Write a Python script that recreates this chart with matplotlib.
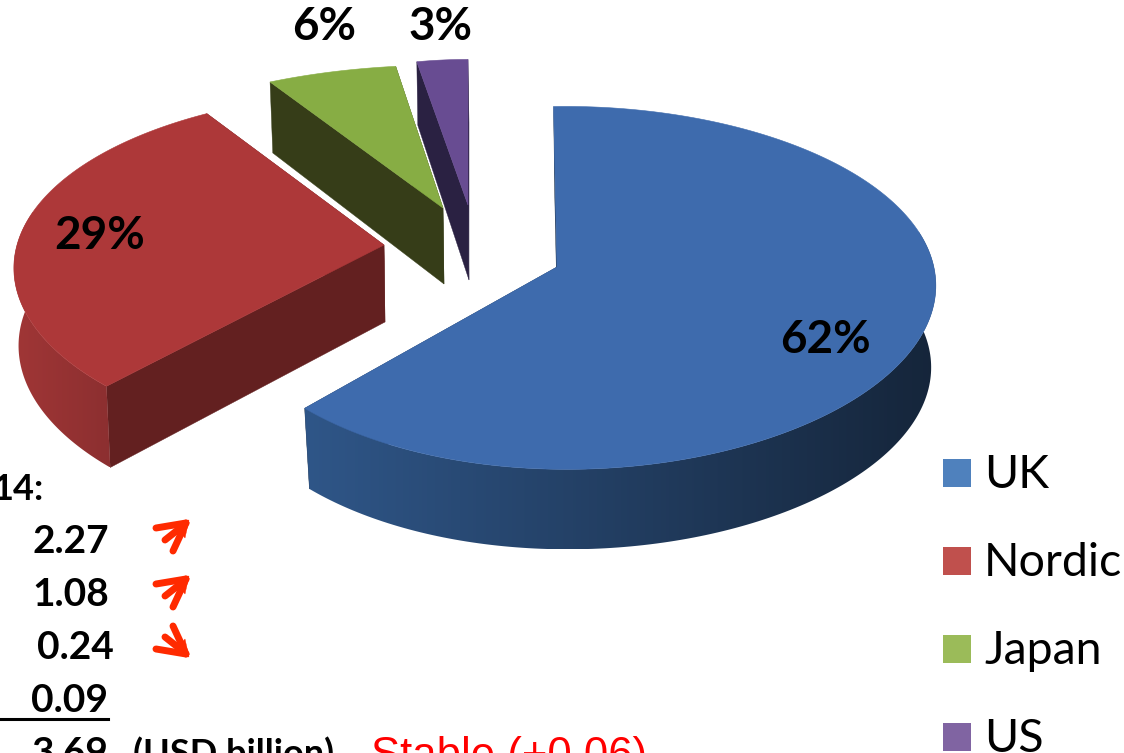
"""Exploded 3D-look pie of regional shares with a small value table and legend."""
from __future__ import annotations

import matplotlib
matplotlib.use("Agg")
import matplotlib.pyplot as plt
import matplotlib.colors as mcolors
import numpy as np
from matplotlib.patches import Polygon, Rectangle

WIDTH, HEIGHT = 1124, 753

REGIONS = ["UK", "Nordic", "Japan", "US"]
SHARES = [62, 29, 6, 3]
SHARE_LABELS = ["62%", "29%", "6%", "3%"]
LABEL_POS = [(825, 340), (100, 236), (324, 27), (441, 27)]

TABLE_VALUES = ["2.27", "1.08", "0.24", "0.09"]
TABLE_RIGHT = [109, 109, 114, 108]
TABLE_BASE = [553, 606, 659, 712]
TREND = [1, 1, -1]
TOTAL_VALUE = "3.69"

LEGEND_COLORS = ["#4F81BD", "#C0504D", "#9BBB59", "#8064A2"]
LEGEND_Y = [459, 547, 635, 723]

TOP_COLORS = ["#3E6BAD", "#AD3839", "#87AD44", "#684C92"]
CUT_COLORS = ["#1D3350", "#632020", "#363D18", "#2A2142"]
# colour of the outer wall, from its left end to its right end
WALL_COLORS = [("#2F5688", "#15253A"), ("#A03636", "#8C2F30"), None, None]

# apex x, apex y, radius x, radius y, lean, rotation, perspective x, perspective y,
# depth, bottom scale x, bottom scale y
GEOMETRY = [
    (557, 267, 358, 179, 0.05, -0.6, 0.10, 0.115, 82, 0.985, 0.99),
    (384, 245, 367, 174, 0.0, 0.0, 0.13, 0.14, 77, 0.99, 1.03),
    (443, 208, 383, 158, 0.0, 3.0, 0.10, 0.106, 76, 0.99, 1.04),
    (468, 205, 300, 161, 0.0, 0.0, 0.10, 0.106, 75, 1.00, 1.08),
]
ARROW_RED = "#FF2A00"


def project(theta, geo):
    """Map clockwise-from-top angles (degrees) on the disc to the screen."""
    cx, cy, rx, ry, lean, rot, px, py = geo[:8]
    t = np.radians(np.asarray(theta, dtype=float) + rot)
    x, y = np.sin(t), -np.cos(t)
    return (cx + rx * x / (1 - px * y - lean * x),
            cy + ry * y / (1 - py * y - 0.5 * lean * x),
            y)


def lower(px, py, geo):
    """Shift top-face points to the bottom face of the slab."""
    cx, cy = geo[0], geo[1]
    depth, sx, sy = geo[8:]
    return cx + 1 + sx * (px - cx), cy + depth + sy * (py - cy)


def draw_wall(ax, px, py, bx, by, disc_y, wall):
    # Outer wall as a horizontal gradient clipped to the curved band
    keep = disc_y >= -0.2
    band = np.column_stack([np.r_[px[keep], bx[keep][::-1]], np.r_[py[keep], by[keep][::-1]]])
    patch = Polygon(band, closed=True, facecolor="none", edgecolor="none", transform=ax.transData)
    ax.add_patch(patch)
    left, right = (np.array(mcolors.to_rgb(c)) for c in wall)
    ramp = np.linspace(0, 1, 256)[None, :, None]
    gradient = left[None, None, :] + (right - left)[None, None, :] * ramp
    x0, x1 = band[:, 0].min(), band[:, 0].max()
    y0, y1 = band[:, 1].min(), band[:, 1].max()
    img = ax.imshow(gradient, extent=(x0, x1, y1, y0), aspect="auto", zorder=2.5,
                    interpolation="bilinear")
    img.set_clip_path(patch)


def draw_slice(ax, start, share, top, cut, wall, geo):
    theta = np.linspace(start, start + share * 3.6, 240)
    px, py, disc_y = project(theta, geo)
    bx, by = lower(px, py, geo)
    cx, cy = geo[0], geo[1]
    acx, acy = lower(np.array([cx]), np.array([cy]), geo)

    # Cut faces first, the top face goes over whatever should be hidden
    for i in (0, -1):
        ax.add_patch(Polygon([(px[i], py[i]), (cx, cy), (acx[0], acy[0]), (bx[i], by[i])],
                             closed=True, facecolor=cut, edgecolor=cut, lw=0.3, zorder=2))
    if wall is not None:
        draw_wall(ax, px, py, bx, by, disc_y, wall)
    outline = np.column_stack([np.r_[cx, px], np.r_[cy, py]])
    ax.add_patch(Polygon(outline, closed=True, facecolor=top, edgecolor=top, lw=0.4, zorder=3))


def draw_arrow(ax, tip_y, sign):
    # Chunky hand-drawn style arrow, sign flips it between up and down
    tip_x = 189
    strokes = [((-16, 31), (-3, 3)), ((-33, 8), (-3, 3)), ((-24, 20), (-5, 5))]
    for (x0, y0), (x1, y1) in strokes:
        ax.plot([tip_x + x0, tip_x + x1], [tip_y + sign * y0, tip_y + sign * y1],
                color=ARROW_RED, lw=5, solid_capstyle="round", zorder=4)
    ax.add_patch(Polygon([(tip_x, tip_y), (tip_x - 16, tip_y + sign * 3), (tip_x - 4, tip_y + sign * 18)],
                         closed=True, facecolor=ARROW_RED, edgecolor=ARROW_RED, lw=0.3, zorder=4))


def main() -> None:
    fig = plt.figure(figsize=(WIDTH / 100, HEIGHT / 100), dpi=100)
    ax = fig.add_axes([0, 0, 1, 1])

    start = 0.0
    for share, top, cut, wall, geo in zip(SHARES, TOP_COLORS, CUT_COLORS, WALL_COLORS, GEOMETRY):
        draw_slice(ax, start, share, top, cut, wall, geo)
        start += share * 3.6

    # imshow resets the limits, so pin them after the slices
    ax.set_xlim(0, WIDTH)
    ax.set_ylim(HEIGHT, 0)
    ax.axis("off")

    for label, (x, y) in zip(SHARE_LABELS, LABEL_POS):
        ax.text(x, y, label, ha="center", va="center", fontsize=33, fontweight="bold",
                family="Lato", color="black", zorder=5)

    # Legend
    for name, color, y in zip(REGIONS, LEGEND_COLORS, LEGEND_Y):
        ax.add_patch(Rectangle((943, y), 28, 28, facecolor=color, edgecolor="none", zorder=5))
        ax.text(984, y + 29, name, ha="left", va="baseline", fontsize=33.5, family="Lato",
                color="black", zorder=5)

    # Value table on the left
    ax.text(44, 500, "14:", ha="right", va="baseline", fontsize=26, fontweight="bold", family="Lato")
    for value, right, base in zip(TABLE_VALUES, TABLE_RIGHT, TABLE_BASE):
        ax.text(right, base, value, ha="right", va="baseline", fontsize=28, fontweight="bold", family="Lato")
    ax.plot([0, 108], [719, 719], color="black", lw=2.2, zorder=4)
    ax.text(109, 765, TOTAL_VALUE, ha="right", va="baseline", fontsize=28, fontweight="bold", family="Lato")
    ax.text(133, 765, "(USD billion)", ha="left", va="baseline", fontsize=26, fontweight="bold", family="Lato")
    ax.text(371, 768, "Stable (+0.06)", ha="left", va="baseline", fontsize=31.5,
            family="Liberation Sans", color="#FF0000")

    for direction, tip_y in zip(TREND, [520, 576, 657]):
        draw_arrow(ax, tip_y, direction)

    fig.savefig("out.png", dpi=100, facecolor="white")
    plt.close(fig)


if __name__ == "__main__":
    main()
